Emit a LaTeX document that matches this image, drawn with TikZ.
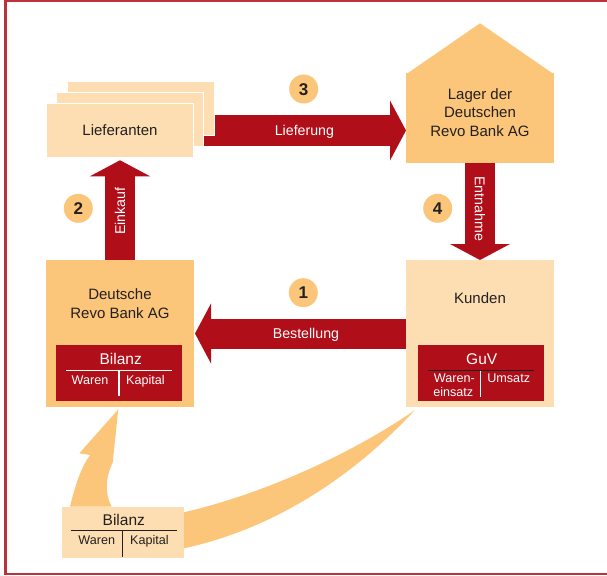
\documentclass[tikz,border=0pt]{standalone}
\usepackage{fontspec}
\setmainfont{Liberation Sans}
\usetikzlibrary{arrows.meta,backgrounds}
\definecolor{peach}{RGB}{253,222,178}
\definecolor{hausorange}{RGB}{252,198,122}
\definecolor{dunkelrot}{RGB}{176,14,24}
\definecolor{rahmen}{RGB}{185,50,60}
\definecolor{ink}{RGB}{35,31,32}
\begin{document}
\begin{tikzpicture}[x=1pt,y=-1pt,
  sheet/.style={fill=peach, draw=white, line width=1pt, minimum width=147pt, minimum height=54.5pt, inner sep=0pt},
  panel/.style={inner sep=0pt, outer sep=0pt, minimum width=148pt},
  redtab/.style={fill=dunkelrot, inner sep=0pt, minimum width=125.7pt, minimum height=55.7pt},
  boxtext/.style={font=\fontsize{15}{18}\selectfont, text=ink, inner sep=0pt, text height=10.75pt, text depth=0pt},
  arrowtext/.style={font=\fontsize{14.2}{17}\selectfont, text=white, inner sep=0pt, text height=10.2pt, text depth=0pt},
  headtext/.style={font=\fontsize{15.5}{18}\selectfont, inner sep=0pt, text height=11.1pt, text depth=0pt},
  celltext/.style={font=\fontsize{12.6}{15}\selectfont, inner sep=0pt, text height=9pt, text depth=0pt},
  numdisc/.style={circle, fill=hausorange, minimum size=29pt, inner sep=0pt, text=ink, font=\bfseries\fontsize{17}{20}\selectfont, text height=12.2pt, text depth=0pt},
  bigarrow/.style={draw=dunkelrot, line width=30pt, -{Triangle[width=60pt,length=16pt,line width=0pt]}},
  rule/.style={line width=1.2pt}
]
\useasboundingbox (0,0) rectangle (607,575);
\draw[rahmen, line width=2.5pt] (607,1.25) -- (5.3,1.25) -- (5.3,573.75) -- (607,573.75);

% Lieferanten stack
\node[sheet] (lief3) at (141,108.5) {};
\node[sheet] (lief2) at (130.3,119.5) {};
\node[sheet] (lief) at (119.5,130.5) {};
\node[boxtext] (lieft) at (120,130.5) {Lieferanten};

% Lager (house)
\node[panel, fill=hausorange, minimum height=89.4pt] (lager) at (480,118) {};
\fill[hausorange] (406,74.3) -- (480,23.3) -- (554,74.3) -- cycle;
\node[boxtext] (lager1) at (480,94.1) {Lager der};
\node[boxtext] (lager2) at (480,112.6) {Deutschen};
\node[boxtext] (lager3) at (480,131.4) {Revo Bank AG};

% Kunden
\node[panel, fill=peach, minimum height=147pt] (kunden) at (480,333.5) {};
\node[boxtext] (kundent) at (480,298) {Kunden};

% Deutsche Revo Bank AG
\node[panel, fill=hausorange, minimum height=147pt] (bank) at (120,333.5) {};
\node[boxtext] (bank1) at (120,294.5) {Deutsche};
\node[boxtext] (bank2) at (120,313) {Revo Bank AG};

% Bilanz in bank
\node[redtab] (bil) at (118.85,372.85) {};
\node[headtext, text=white] (bilh) at (120.7,359.3) {Bilanz};
\draw[white, rule] (66,370.7) -- (171.7,370.7);
\draw[white, rule] (119,370.7) -- (119,396);
\node[celltext, text=white] (bilw) at (90,380) {Waren};
\node[celltext, text=white] (bilk) at (145.5,380) {Kapital};

% GuV in Kunden
\node[redtab] (guv) at (481.15,372.85) {};
\node[headtext, text=white] (guvh) at (481.7,359.3) {GuV};
\draw[ink, rule] (428.3,370.7) -- (534.3,370.7);
\draw[white, rule] (480.7,370.7) -- (480.7,396.7);
\node[celltext, text=white] (guvw1) at (454.3,378) {Waren-};
\node[celltext, text=white] (guvw2) at (453.3,392.2) {einsatz};
\node[celltext, text=white] (guvu) at (508.7,378) {Umsatz};

% orange curved arrows
\fill[hausorange] (70,506.5) .. controls (76,482) and (82,466) .. (90,455) -- (79.3,453.3) -- (118.3,409.3) -- (112.7,462.7) .. controls (105,478) and (105,495) .. (111.7,506.5) -- cycle;
\fill[hausorange] (415,410) .. controls (350,455) and (260,495) .. (183,512.5) -- (183,548.5) .. controls (270,530) and (350,480) .. (415,410) -- cycle;

% bottom Bilanz
\node[fill=peach, inner sep=0pt, minimum width=122pt, minimum height=51.6pt] (bil2) at (123.3,532.5) {};
\node[headtext, text=ink] (bil2h) at (123.8,519.7) {Bilanz};
\draw[ink, line width=1.3pt] (70.7,530.7) -- (176.7,530.7);
\draw[ink, line width=1.3pt] (122.7,530.7) -- (122.7,556.7);
\node[celltext, text=ink] (bil2w) at (96.7,539.7) {Waren};
\node[celltext, text=ink] (bil2k) at (149.5,539.7) {Kapital};

% number discs
\node[numdisc] (n1) at (303.3,292.7) {1};
\node[numdisc] (n2) at (78.3,208.3) {2};
\node[numdisc] (n3) at (303.7,89) {3};
\node[numdisc] (n4) at (437.7,208.3) {4};

% red block arrows
\begin{scope}[on background layer]
\draw[bigarrow] (lief.east) -- (lief.east -| lager.west) node[arrowtext, pos=0.522] (lbl3) {Lieferung};
\draw[bigarrow] (lager.south) -- (kunden.north) node[arrowtext, pos=0.473, rotate=-90] (lbl4) {Entnahme};
\draw[bigarrow, shorten >=1pt] (kunden.west) -- (bank.east) node[arrowtext, pos=0.472] (lbl1) {Bestellung};
\draw[bigarrow, shorten >=2pt] (bank.north) -- (bank.north |- lief.south) node[arrowtext, pos=0.48, rotate=90] (lbl2) {Einkauf};
\end{scope}
\end{tikzpicture}
\end{document}
